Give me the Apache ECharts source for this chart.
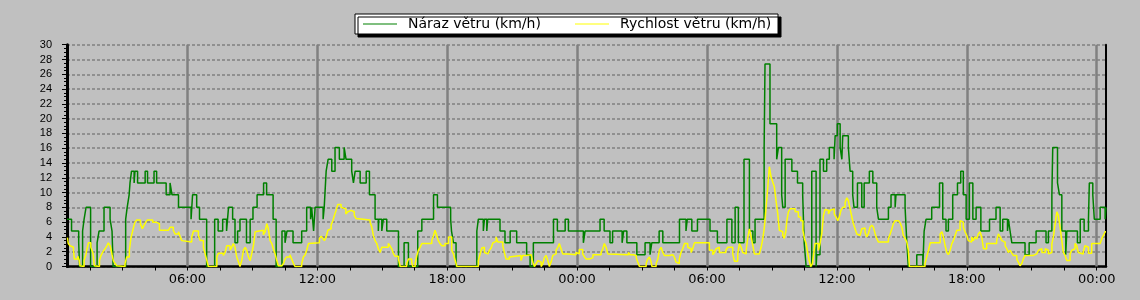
<!DOCTYPE html>
<html><head><meta charset="utf-8">
<script src="https://cdn.jsdelivr.net/npm/echarts@6/dist/echarts.min.js"></script>
<style>html,body{margin:0;padding:0;background:#c0c0c0}#c{width:1140px;height:300px}</style>
</head><body><div id="c"></div><script>
// time in hours since 00:00 of the first day
const gustTimes = [0.44,0.65,0.98,1.02,1.16,1.23,1.32,1.53,1.83,1.92,2.15,2.43,2.52,2.57,3.15,3.22,3.31,3.35,3.42,3.54,3.58,3.70,4.05,4.16,4.46,4.58,5.02,5.20,5.29,5.59,6.17,6.24,6.43,6.56,6.89,7.26,7.42,7.63,7.81,7.90,8.09,8.20,8.32,8.43,8.73,8.90,9.03,9.22,9.52,9.66,9.96,10.10,10.37,10.51,10.60,10.88,11.28,11.51,11.69,11.74,11.83,11.90,12.27,12.32,
  12.41,12.50,12.67,12.82,13.02,13.24,13.33,13.59,13.67,13.75,13.98,14.26,14.41,14.67,14.82,14.84,14.98,15.05,15.21,15.75,16.01,16.21,16.64,
  16.83,17.37,17.55,18.16,18.20,18.29,18.41,19.37,19.44,19.67,19.72,19.83,19.87,20.44,20.67,20.91,21.21,21.67,21.83,21.98,22.91,23.09,23.45,23.60,24.29,24.37,25.06,25.25,25.52,25.64,26.08,26.15,26.30,26.76,27.14,27.37,27.45,27.79,27.96,28.73,29.03,29.09,29.30,29.56,30.14,30.48,30.92,31.15,31.30,31.45,31.71,31.96,32.12,32.22,32.64,32.68,32.91,33.22,33.30,33.45,33.50,33.61,33.92,34.18,34.42,34.49,34.58,34.84,35.04,35.07,35.22,35.38,35.53,35.65,35.87,35.92,36.02,36.15,36.23,36.27,36.53,36.61,36.73,36.79,36.95,37.15,37.26,37.50,37.66,37.84,37.92,38.38,38.50,38.69,38.73,39.15,39.23,39.30,39.69,39.97,40.03,40.12,40.38,40.74,40.89,41.04,41.15,41.35,41.57,41.72,41.84,41.97,42.12,42.28,42.43,42.65,43.05,43.35,
  43.54,43.66,43.88,43.92,44.00,44.08,44.69,44.88,45.20,45.66,45.77,45.93,45.97,46.19,46.28,46.39,46.57,46.62,47.11,47.24,47.42,47.62,47.66,47.82,47.89,48.16,48.39,48.43];
const gustValues = [6.4,4.8,3.2,0,4.8,6.4,8.0,0,3.2,4.8,8.0,6.4,4.8,0,6.4,8.0,9.7,11.3,12.9,11.3,12.9,11.3,12.9,11.3,12.9,11.3,9.7,11.3,9.7,8.0,6.4,9.7,8.0,6.4,0,6.4,4.8,6.4,4.8,8.0,6.4,3.2,4.8,6.4,3.2,6.4,8.0,9.7,11.3,9.7,6.4,0,4.8,3.2,4.8,3.2,4.8,8.0,6.4,8.0,4.8,8.0,6.4,8.0,
  12.9,14.5,12.9,16.1,14.5,16.1,14.5,12.9,11.3,12.9,11.3,12.9,9.7,6.4,4.8,6.4,4.8,6.4,4.8,0,3.2,0,4.8,
  6.4,9.7,8.0,6.4,4.8,3.2,0,4.8,6.4,4.8,6.4,4.8,6.4,4.8,3.2,4.8,3.2,1.6,0,3.2,6.4,4.8,6.4,4.8,3.2,4.8,6.4,4.8,3.2,4.8,3.2,4.8,3.2,1.6,3.2,1.6,3.2,4.8,3.2,6.4,4.8,6.4,4.8,6.4,4.8,3.2,6.4,3.2,8.0,3.2,14.5,4.8,3.2,6.4,16.1,27.4,19.3,14.5,16.1,9.7,8.0,14.5,12.9,11.3,9.7,3.2,0,12.9,0,1.6,14.5,12.9,14.5,16.1,14.5,17.7,19.3,16.1,14.5,17.7,16.1,12.9,9.7,8.0,11.3,8.0,11.3,12.9,11.3,8.0,6.4,8.0,9.7,8.0,9.7,8.0,3.2,0,1.6,0,4.8,6.4,8.0,11.3,6.4,4.8,6.4,9.7,11.3,12.9,9.7,6.4,11.3,6.4,8.0,4.8,6.4,8.0,
  4.8,6.4,4.8,6.4,4.8,3.2,1.6,3.2,4.8,3.2,4.8,9.7,16.1,11.3,9.7,4.8,1.6,4.8,3.2,6.4,4.8,6.4,11.3,9.7,6.4,8.0,6.4,8.0];
const speedTimes = [0.46,0.50,0.58,0.66,0.74,0.78,0.94,1.01,1.04,1.12,1.23,1.32,1.35,1.43,1.54,1.63,1.66,1.70,1.74,1.94,2.00,2.05,2.12,2.20,2.28,2.35,2.43,2.48,2.52,2.58,2.66,2.74,2.81,3.12,3.20,3.32,3.39,3.48,3.54,3.58,3.66,3.83,3.92,4.00,4.08,4.15,4.40,4.55,4.61,4.71,5.12,5.20,5.35,5.43,5.59,5.66,5.74,5.82,6.20,6.28,6.51,6.59,6.74,6.82,6.90,6.97,7.36,7.43,7.66,7.74,7.82,7.97,8.05,8.12,8.20,8.28,8.36,8.43,8.51,8.59,8.67,8.74,8.82,8.90,8.97,9.05,9.13,9.21,9.51,9.59,9.67,9.74,9.82,9.90,9.97,10.05,10.13,10.20,10.36,10.44,10.51,10.59,10.74,10.82,10.90,10.97,11.28,11.36,11.44,11.51,11.59,11.67,12.10,12.18,12.25,12.33,12.41,12.49,12.56,12.64,12.72,12.79,12.87,12.95,13.10,13.18,13.32,13.41,13.48,13.56,13.71,13.79,13.87,14.44,14.52,14.59,14.67,14.75,14.82,14.90,14.98,15.13,15.21,15.28,15.36,15.44,15.52,15.59,15.75,15.83,16.13,16.21,16.36,16.41,16.52,16.60,16.67,16.75,16.83,17.29,17.36,17.44,17.52,17.59,17.67,17.75,17.90,18.06,18.21,18.29,18.37,18.45,19.44,19.52,19.60,19.67,19.72,19.80,19.88,19.95,20.03,20.11,20.18,20.26,20.34,20.57,20.64,20.72,20.87,20.95,21.41,21.49,21.65,21.88,21.95,22.03,22.11,22.19,22.26,22.34,22.42,22.49,22.57,22.65,22.72,22.80,22.88,22.95,23.03,23.11,23.18,23.26,23.34,23.57,23.65,23.95,24.03,24.10,24.26,24.34,24.42,24.57,24.73,25.11,25.19,25.26,25.34,25.42,25.49,26.37,26.45,26.60,26.73,26.80,26.88,27.19,27.26,27.34,27.42,27.46,27.65,27.73,27.80,27.88,27.96,28.03,28.26,28.34,28.42,28.49,28.57,28.65,28.72,28.80,28.88,28.96,29.11,29.19,29.27,29.34,29.42,30.11,30.27,30.34,30.42,30.50,30.57,30.87,30.96,31.19,31.27,31.42,31.50,31.58,31.65,31.73,31.81,31.89,31.96,32.04,32.12,32.19,32.42,32.50,32.58,32.65,32.73,32.81,32.88,32.96,33.04,33.11,33.19,33.27,33.34,33.42,33.50,33.57,33.64,33.69,33.76,33.84,34.07,34.22,34.33,34.43,34.50,34.58,34.66,34.72,34.79,34.87,34.92,34.99,35.15,35.22,35.30,35.38,35.45,35.53,35.61,35.69,35.76,35.88,35.96,36.04,36.11,36.19,36.27,36.38,36.46,36.53,36.61,36.69,36.76,36.84,36.92,36.99,37.07,37.15,37.22,37.30,37.38,37.45,37.53,37.61,37.69,37.77,37.84,37.92,38.38,38.46,38.54,38.61,38.69,38.84,38.92,39.00,39.07,39.15,39.23,39.30,39.35,40.07,40.15,40.23,40.31,40.77,40.85,40.92,41.00,41.08,41.15,41.23,41.31,41.38,41.46,41.54,41.69,41.77,41.84,41.92,42.00,42.07,42.15,42.23,42.30,42.38,42.46,42.53,42.61,42.69,42.77,42.92,43.38,43.46,43.54,43.62,43.69,43.77,43.85,43.92,44.00,44.08,44.15,44.31,44.38,44.46,44.54,44.61,44.69,44.85,44.93,45.08,45.23,45.31,45.39,45.47,45.62,45.70,45.77,45.85,45.93,46.00,46.08,46.16,46.23,46.31,46.39,46.46,46.54,46.62,46.77,46.85,46.92,47.00,47.08,47.15,47.23,47.38,47.46,47.54,47.62,47.77,48.16,48.24,48.31,48.39,48.43];
const speedValues = [3.9,3.1,2.8,2.6,2.2,1.0,1.4,0.8,0.1,0,0.8,1.7,2.2,3.2,2.6,1.9,1.3,0.1,0,0.8,1.4,1.7,2.1,2.4,2.8,3.2,2.8,2.2,1.6,0.8,0.4,0.1,0,0.4,1.3,2.2,3.8,4.9,5.6,6.0,6.3,5.8,5.1,5.6,6.0,6.3,6.0,6.2,5.8,4.9,5.1,5.3,4.9,4.4,4.7,4.1,3.5,3.3,4.0,4.8,4.2,3.5,2.6,1.7,0.8,0,1.3,1.8,1.5,1.9,2.8,2.2,2.6,3.1,2.6,1.3,0.6,0,0.8,2.2,2.6,2.2,1.3,0.8,1.7,2.8,4.7,4.9,4.3,4.7,5.8,5.1,3.5,3.1,2.4,1.7,0.8,0.1,0,0.4,1.0,1.3,1.6,1.0,0.4,0,0.4,1.3,1.6,2.2,3.1,3.2,3.8,4.1,3.8,3.5,4.0,4.9,5.1,5.6,6.2,6.9,7.6,8.4,8.0,7.8,7.1,7.4,7.6,7.4,6.9,6.5,6.3,6.0,5.3,4.2,3.5,3.1,2.4,1.9,2.6,2.4,2.6,3.1,2.8,2.4,1.7,1.4,1.0,0,0.4,1.0,0.6,0,0.4,1.5,2.2,2.6,3.1,3.5,4.1,4.9,4.2,3.5,3.1,2.8,3.1,4.0,2.2,1.7,0.8,0,0.8,1.7,2.5,2.6,1.9,1.7,1.9,2.2,2.5,3.2,3.4,4.0,3.3,2.8,1.9,1.0,1.3,1.5,0.8,1.5,1.6,1.4,0.6,0,0.4,0.8,0.6,0,0.4,1.2,1.5,0.8,0,0.6,1.5,1.7,2.2,2.6,3.1,2.4,1.7,1.9,1.6,1.9,1.7,2.3,1.7,1.3,1.0,1.2,1.6,1.9,2.4,3.1,2.6,1.7,1.6,1.9,1.6,1.5,1.2,0.6,0,0.4,1.0,1.3,0.6,0,0.4,1.0,2.2,2.6,1.9,1.5,1.3,1.6,1.8,1.3,0.6,0.4,1.0,1.9,2.4,3.1,2.6,2.4,1.9,2.4,3.2,2.2,1.6,1.9,2.4,2.6,1.9,2.2,2.6,1.7,0.7,1.7,3.1,2.6,1.9,1.7,2.2,4.0,5.1,4.0,2.8,1.7,1.8,2.6,3.8,5.3,8.0,10.8,13.5,12.1,11.4,10.8,8.9,7.1,4.9,4.7,4.2,3.8,4.7,6.2,7.4,7.8,7.4,6.7,6.2,4.9,3.8,3.1,1.7,0.8,0,0.4,1.5,3.1,2.2,3.1,4.4,6.9,7.7,7.6,7.1,7.6,7.8,7.1,6.7,6.2,6.7,7.6,8.0,8.7,9.3,8.9,7.8,6.7,5.8,5.1,4.4,4.2,4.4,5.1,5.2,4.6,4.0,4.4,5.3,5.6,5.3,4.4,3.8,3.3,3.8,4.4,5.1,5.8,6.2,6.1,5.9,5.3,4.2,3.8,3.3,2.2,0,0.4,1.3,2.2,3.2,4.4,4.7,4.0,2.8,1.9,1.6,2.2,3.1,3.5,4.2,4.9,6.2,6.0,5.3,4.7,4.2,3.5,3.3,4.0,3.5,4.0,3.7,4.4,4.7,4.0,2.4,3.1,3.5,4.4,4.0,3.5,3.3,2.8,2.4,1.9,2.2,1.8,1.5,1.0,0.6,0.1,0.4,1.0,1.5,1.3,1.5,1.7,1.8,2.2,2.4,1.9,2.4,2.2,1.7,1.9,3.1,4.0,5.8,7.4,6.9,5.3,3.5,1.9,1.5,0.8,1.7,2.2,2.4,3.1,2.8,1.9,1.7,2.0,2.8,2.6,1.8,3.1,3.2,3.8,4.2,4.7,4.7];
const seriesNames = ['Náraz větru (km/h)', 'Rychlost větru (km/h)'];
const tickHours = [1.5,3,4.5,6,7.5,9,10.5,12,13.5,15,16.5,18,19.5,21,22.5,24,25.5,27,28.5,30,31.5,33,34.5,36,37.5,39,40.5,42,43.5,45,46.5,48];
const labelHours = [6,12,18,24,30,36,42,48];
const labelTexts = ['06:00','12:00','18:00','00:00','06:00','12:00','18:00','00:00'];
const xMin = 0.44, xMax = 48.43;

const pair = (ts, vs) => ts.map((t, i) => [t, vs[i]]);
const chart = echarts.init(document.getElementById('c'), null, {renderer: 'canvas'});
chart.setOption({
  animation: false,
  backgroundColor: '#c0c0c0',
  grid: {left: 67, right: 34, top: 44.7, bottom: 33.5},
  legend: {
    left: 355, top: 14,
    padding: [3, 0, 3, 8],
    itemGap: 28, itemWidth: 34, itemHeight: 1,
    backgroundColor: '#ffffff', borderColor: '#000000', borderWidth: 1,
    shadowColor: '#000000', shadowBlur: 0, shadowOffsetX: 3, shadowOffsetY: 3,
    textStyle: {fontFamily: 'DejaVu Sans', fontSize: 14, color: '#000', lineHeight: 13},
    data: [
      {name: seriesNames[0], icon: 'rect', itemStyle: {color: '#008000'}, textStyle: {width: 139, padding: [0, 0, 0, 6]}},
      {name: seriesNames[1], icon: 'rect', itemStyle: {color: '#ffff00'}, textStyle: {width: 158, padding: [0, 0, 0, 6]}}
    ]
  },
  xAxis: [{
    type: 'value', min: xMin, max: xMax,
    axisLine: {show: true, onZero: false, lineStyle: {color: '#000', width: 2.5}},
    axisTick: {show: true, customValues: tickHours, length: 4, lineStyle: {color: '#000'}},
    axisLabel: {customValues: labelHours, margin: 7, color: '#000', fontFamily: 'DejaVu Sans', fontSize: 13,
      formatter: v => labelTexts[labelHours.indexOf(v)] || ''},
    splitLine: {show: false}
  }, {
    type: 'value', position: 'top', min: xMin, max: xMax,
    axisLine: {show: true, lineStyle: {color: '#000', width: 1, type: [2, 2]}},
    axisTick: {show: false}, axisLabel: {show: false}, splitLine: {show: false}
  }],
  yAxis: [{
    type: 'value', min: 0, max: 30, interval: 2,
    axisLine: {show: true, lineStyle: {color: '#000', width: 3}},
    axisTick: {show: true, length: 5, lineStyle: {color: '#000'}},
    minorTick: {show: true, splitNumber: 4, length: 3, lineStyle: {color: '#000'}},
    axisLabel: {margin: 15, color: '#000', fontFamily: 'Liberation Sans', fontSize: 11},
    splitLine: {show: true, lineStyle: {color: '#808080', width: 1.5, type: [3, 2]}}
  }, {
    type: 'value', position: 'right', min: 0, max: 30,
    axisLine: {show: true, lineStyle: {color: '#000', width: 2}},
    axisTick: {show: false}, axisLabel: {show: false}, splitLine: {show: false}
  }],
  series: [{
    name: seriesNames[0], type: 'line', step: 'end', symbol: 'none',
    data: pair(gustTimes, gustValues),
    lineStyle: {color: '#008000', width: 1.5}, itemStyle: {color: '#008000'},
    markLine: {
      silent: true, z: 1, symbol: ['none', 'none'], label: {show: false},
      lineStyle: {color: '#808080', width: 2.5, type: 'solid'},
      data: labelHours.map(h => ({xAxis: h}))
    }
  }, {
    name: seriesNames[1], type: 'line', step: 'end', symbol: 'none',
    data: pair(speedTimes, speedValues),
    lineStyle: {color: '#ffff00', width: 1.5}, itemStyle: {color: '#ffff00'}
  }]
});
</script></body></html>
